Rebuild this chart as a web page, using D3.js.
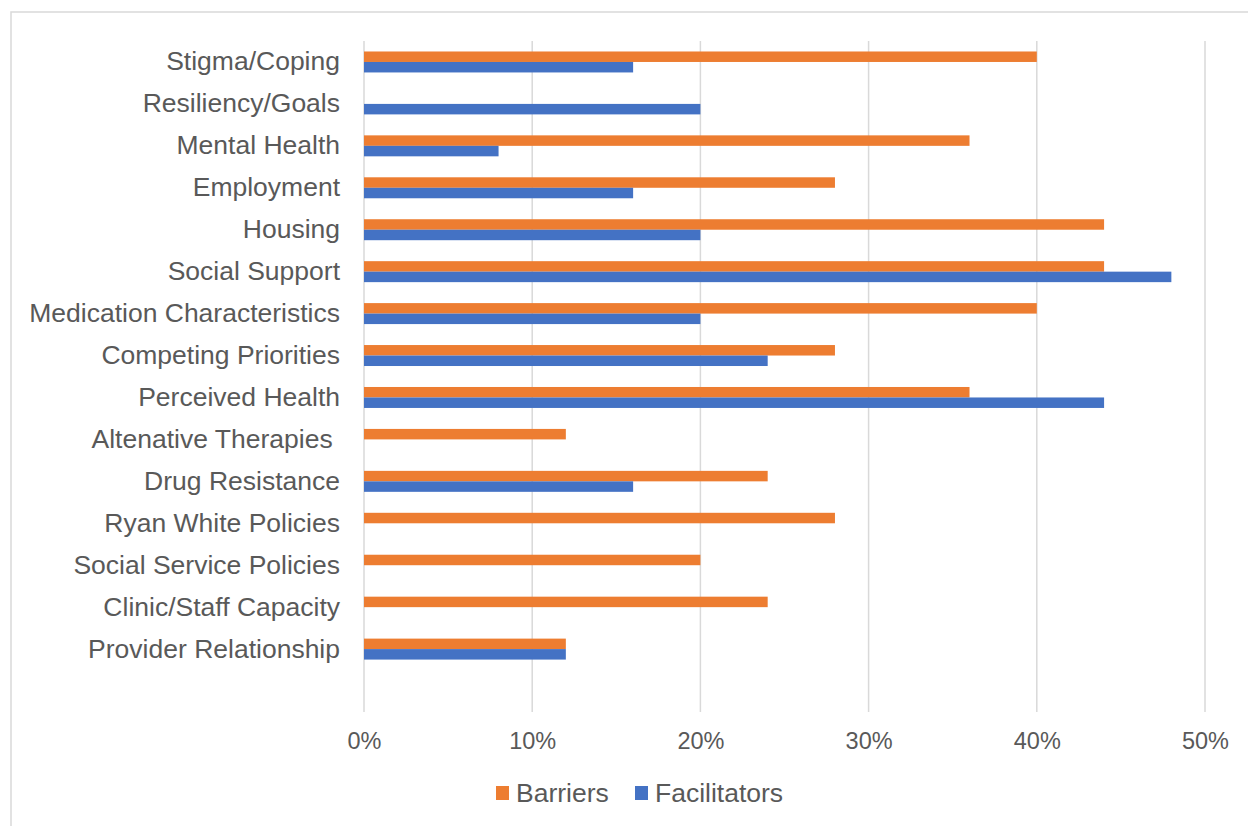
<!DOCTYPE html>
<html>
<head>
<meta charset="utf-8">
<script src="https://cdn.jsdelivr.net/npm/d3@7"></script>
<style>
  html, body { margin: 0; padding: 0; background: #fff; }
  svg { display: block; font-family: "Liberation Sans", Arial, sans-serif; }
</style>
</head>
<body>
<svg id="chart" width="1248" height="826"></svg>
<script>
// Themes, from the top of the chart to the bottom
const categories = [
  "Stigma/Coping", "Resiliency/Goals", "Mental Health", "Employment", "Housing",
  "Social Support", "Medication Characteristics", "Competing Priorities",
  "Perceived Health", "Altenative Therapies ", "Drug Resistance",
  "Ryan White Policies", "Social Service Policies", "Clinic/Staff Capacity",
  "Provider Relationship"
];
// Share of participants (fraction); null = theme not mentioned for that series
const barriers = [0.40, null, 0.36, 0.28, 0.44, 0.44, 0.40, 0.28, 0.36, 0.12, 0.24, 0.28, 0.20, 0.24, 0.12];
const facilitators = [0.16, 0.20, 0.08, 0.16, 0.20, 0.48, 0.20, 0.24, 0.44, null, 0.16, null, null, null, 0.12];
const seriesNames = ["Barriers", "Facilitators"];
const seriesColors = ["#ED7D31", "#4472C4"];
const xTicks = [0, 0.1, 0.2, 0.3, 0.4, 0.5];

const svg = d3.select("#chart");
const textColor = "#595959";
const gridColor = "#d9d9d9";

// chart frame
svg.append("rect")
  .attr("x", 11).attr("y", 12)
  .attr("width", 1260).attr("height", 840)
  .attr("fill", "#fff").attr("stroke", gridColor).attr("stroke-width", 1.5);

const plot = { left: 364, right: 1205, top: 41, bottom: 712 };
// the category axis reserves one extra empty band below the last theme
const bandStep = (plot.bottom - plot.top) / (categories.length + 1);

const x = d3.scaleLinear().domain([0, 0.5]).range([plot.left, plot.right]);
const y = d3.scaleBand()
  .domain(categories)
  .range([plot.top, plot.top + bandStep * categories.length])
  .paddingInner(0.5).paddingOuter(0.25);
const inner = d3.scaleBand().domain(seriesNames).range([0, y.bandwidth()]);

// vertical gridlines
svg.append("g")
  .selectAll("line")
  .data(xTicks)
  .join("line")
  .attr("x1", d => x(d)).attr("x2", d => x(d))
  .attr("y1", plot.top).attr("y2", plot.bottom)
  .attr("stroke", gridColor).attr("stroke-width", 1.5);

// x tick labels
const xAxis = d3.axisBottom(x).tickValues(xTicks).tickFormat(d3.format(".0%")).tickSize(0).tickPadding(0);
const gx = svg.append("g").attr("transform", `translate(0,${plot.bottom + 20})`).call(xAxis);
gx.select(".domain").remove();
gx.selectAll("text")
  .attr("fill", textColor).attr("font-size", 23.5)
  .attr("font-family", "Liberation Sans, Arial, sans-serif")
  .attr("dy", "0.71em");

// category labels
const yAxis = d3.axisLeft(y).tickSize(0).tickPadding(24);
const gy = svg.append("g").attr("transform", `translate(${plot.left},0)`).call(yAxis);
gy.select(".domain").remove();
gy.selectAll("text")
  .attr("fill", textColor).attr("font-size", 26.5)
  .attr("font-family", "Liberation Sans, Arial, sans-serif")
  .style("white-space", "pre");

// bars
const series = [barriers, facilitators];
series.forEach((vals, si) => {
  svg.append("g")
    .selectAll("rect")
    .data(categories.map((c, i) => ({ c, v: vals[i] })).filter(d => d.v != null))
    .join("rect")
    .attr("x", x(0))
    .attr("y", d => y(d.c) + inner(seriesNames[si]))
    .attr("width", d => x(d.v) - x(0))
    .attr("height", inner.bandwidth())
    .attr("fill", seriesColors[si]);
});

// legend
const legend = svg.append("g").attr("transform", "translate(496,793)");
const legendItems = [{ name: "Barriers", x: 0 }, { name: "Facilitators", x: 139 }];
legendItems.forEach((it, i) => {
  legend.append("rect")
    .attr("x", it.x).attr("y", -7)
    .attr("width", 13).attr("height", 14)
    .attr("fill", seriesColors[i]);
  legend.append("text")
    .attr("x", it.x + 20).attr("y", 0).attr("dy", "0.35em")
    .attr("fill", textColor).attr("font-size", 26.5)
    .text(it.name);
});
</script>
</body>
</html>
